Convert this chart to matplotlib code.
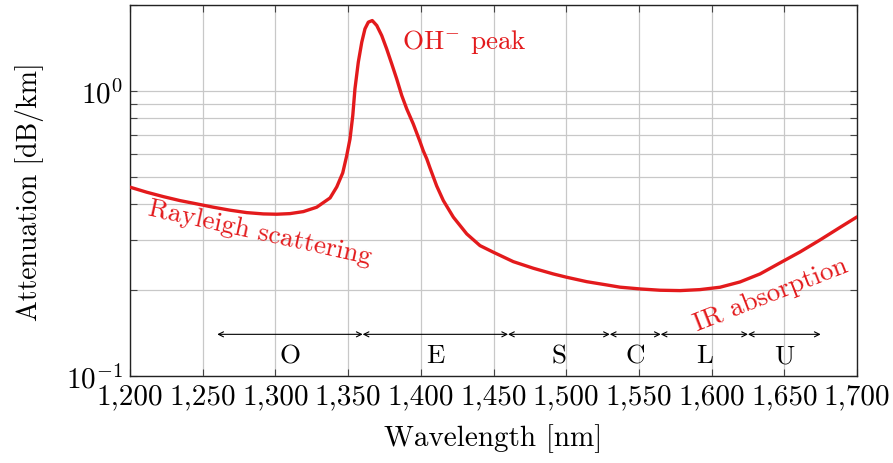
import matplotlib
matplotlib.use("Agg")
import matplotlib.pyplot as plt
from matplotlib.ticker import FixedLocator, NullFormatter

plt.rcParams['font.family'] = ['cmr10', 'DejaVu Serif']
plt.rcParams['mathtext.fontset'] = 'cm'
plt.rcParams['axes.formatter.use_mathtext'] = True

# data
wavelength = [1200.0, 1211.5, 1222.9, 1234.4, 1245.9, 1257.3, 1268.8, 1280.3, 1291.7, 1300.9,
              1310.0, 1319.2, 1328.4, 1337.6, 1342.2, 1346.3, 1349.0, 1351.3, 1353.2, 1354.7,
              1357.0, 1359.4, 1361.6, 1363.9, 1366.6, 1369.7, 1373.1, 1376.5, 1380.0, 1383.4,
              1386.9, 1390.3, 1394.8, 1399.5, 1401.7, 1404.1, 1406.3, 1410.9, 1415.5, 1422.4,
              1431.6, 1440.7, 1449.9, 1463.6, 1477.4, 1491.1, 1500.3, 1514.1, 1527.9, 1537.0,
              1550.8, 1564.5, 1578.3, 1592.0, 1605.8, 1619.5, 1633.3, 1647.0, 1660.8, 1674.6,
              1688.3, 1700.0]
attenuation = [0.4595, 0.4411, 0.4257, 0.4122, 0.4014, 0.3908, 0.3815, 0.3741, 0.3702, 0.3693,
               0.3711, 0.3772, 0.3908, 0.4213, 0.4605, 0.5157, 0.5915, 0.6785, 0.8192, 1.0163,
               1.2606, 1.4824, 1.6507, 1.7417, 1.7644, 1.6952, 1.5635, 1.4040, 1.2434, 1.1018,
               0.9627, 0.8647, 0.7658, 0.6622, 0.6160, 0.5773, 0.5368, 0.4642, 0.4122, 0.3605,
               0.3150, 0.2866, 0.2717, 0.2518, 0.2387, 0.2280, 0.2220, 0.2142, 0.2086, 0.2049,
               0.2020, 0.1999, 0.1993, 0.2009, 0.2048, 0.2137, 0.2280, 0.2492, 0.2723, 0.3001,
               0.3320, 0.3614]

band_names = ['O', 'E', 'S', 'C', 'L', 'U']
band_edges = [1260, 1360, 1460, 1530, 1565, 1625, 1675]

x_ticks = [1200, 1250, 1300, 1350, 1400, 1450, 1500, 1550, 1600, 1650, 1700]
x_tick_labels = ['1,200', '1,250', '1,300', '1,350', '1,400', '1,450', '1,500',
                 '1,550', '1,600', '1,650', '1,700']
y_major = [0.1, 1.0]
y_major_labels = [r'$10^{-1}$', r'$10^{0}$']
y_minor = [0.2, 0.3, 0.4, 0.5, 0.6, 0.7, 0.8, 0.9, 2.0]

red = '#e31a1c'

fig = plt.figure(figsize=(8.93, 4.64), dpi=100)
ax = fig.add_axes([0.1456, 0.1875, 0.9597 - 0.1456, 0.987 - 0.1875])
ax.set_yscale('log')
ax.set_xlim(1200, 1700)
ax.set_ylim(0.1, 2.0)

ax.xaxis.set_major_locator(FixedLocator(x_ticks))
ax.set_xticklabels(x_tick_labels)
ax.yaxis.set_major_locator(FixedLocator(y_major))
ax.set_yticklabels(y_major_labels)
ax.yaxis.set_minor_locator(FixedLocator(y_minor))
ax.yaxis.set_minor_formatter(NullFormatter())

ax.grid(True, which='both', color='#c8c8c8', lw=0.9)
ax.set_axisbelow(True)
ax.tick_params(which='both', direction='in', top=True, right=True, color='#444444',
               labelsize=21, width=0.8)
ax.tick_params(which='major', length=5, pad=5)
ax.tick_params(which='minor', length=5)
for s in ax.spines.values():
    s.set_linewidth(1.0)
    s.set_color('#222222')

ax.plot(wavelength, attenuation, color=red, lw=2.4, zorder=3,
        solid_joinstyle='round', solid_capstyle='round')

# band arrows
y_arrow = 0.14
y_lab = 0.118
for i, name in enumerate(band_names):
    a, b = band_edges[i], band_edges[i + 1]
    ax.annotate('', xy=(b, y_arrow), xytext=(a, y_arrow),
                arrowprops=dict(arrowstyle='<->', lw=0.8, color='black',
                                shrinkA=0, shrinkB=0, mutation_scale=9))
    ax.text((a + b) / 2, y_lab, name, ha='center', va='center', fontsize=19.5)

ax.text(1430, 1.50, r'OH$^{-}$ peak', color=red, fontsize=19.5, ha='center', va='center')
ax.text(1289, 0.32, 'Rayleigh scattering', color=red, fontsize=19.5, ha='center',
        va='center', rotation=-12.5)
ax.text(1641, 0.194, 'IR absorption', color=red, fontsize=19.5, ha='center',
        va='center', rotation=21.5)

ax.set_xlabel('Wavelength [nm]', fontsize=21, labelpad=10)
ax.set_ylabel('Attenuation [dB/km]', fontsize=20, labelpad=16)

fig.savefig('out.png', dpi=100)
